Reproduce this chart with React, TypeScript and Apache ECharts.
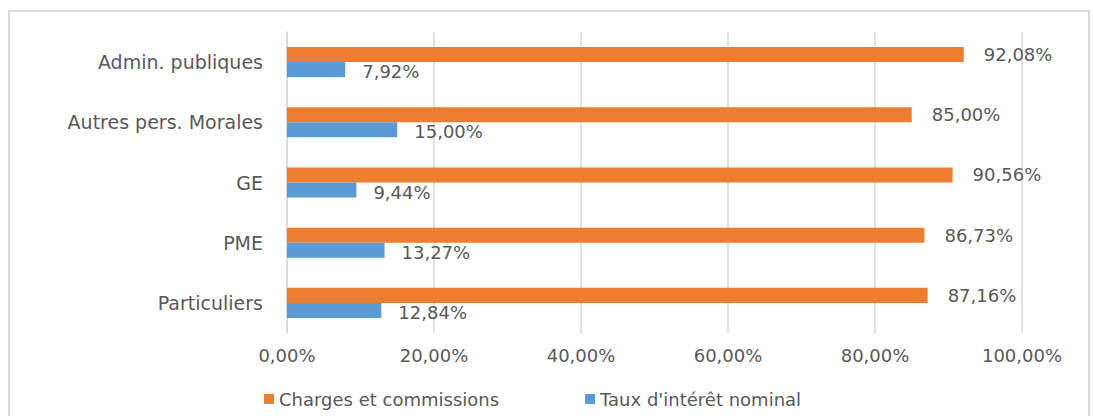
import React, { useEffect, useRef } from "react";
import * as echarts from "echarts";

const categories = ["Particuliers", "PME", "GE", "Autres pers. Morales", "Admin. publiques"];
const chargesValues = [87.16, 86.73, 90.56, 85.0, 92.08];
const tauxValues = [12.84, 13.27, 9.44, 15.0, 7.92];
const seriesNames = ["Charges et commissions", "Taux d'intérêt nominal"];

const fmt = (v: number) => v.toFixed(2).replace(".", ",") + "%";
const FONT = "DejaVu Sans";
const TXT = "#595959";

export default function App() {
  const ref = useRef<HTMLDivElement>(null);
  useEffect(() => {
    if (!ref.current) return;
    const chart = echarts.init(ref.current, undefined, { renderer: "svg" });
    chart.setOption({
      animation: false,
      backgroundColor: "#ffffff",
      textStyle: { fontFamily: FONT, color: TXT },
      graphic: [
        {
          type: "rect",
          shape: { x: 9, y: 11, width: 1080, height: 420 },
          style: { fill: "none", stroke: "#d9d9d9", lineWidth: 2 },
          silent: true,
        },
      ],
      grid: { left: 287, right: 71, top: 32, bottom: 83, containLabel: false },
      legend: {
        data: seriesNames,
        left: 259,
        top: 385,
        itemWidth: 10,
        itemHeight: 10,
        itemGap: 86,
        icon: "rect",
        textStyle: { fontFamily: FONT, color: TXT, fontSize: 18 },
      },
      xAxis: {
        type: "value",
        min: 0,
        max: 100,
        interval: 20,
        axisLabel: {
          formatter: (v: number) => fmt(v),
          color: TXT,
          fontFamily: FONT,
          fontSize: 18,
          margin: 13,
        },
        axisLine: { show: false },
        axisTick: { show: false },
        splitLine: { show: true, lineStyle: { color: "#d9d9d9", width: 1.5 } },
      },
      yAxis: {
        type: "category",
        data: categories,
        axisLabel: { color: TXT, fontFamily: FONT, fontSize: 19, margin: 24 },
        axisLine: { show: true, lineStyle: { color: "#d9d9d9", width: 1.5 } },
        axisTick: { show: false },
      },
      series: [
        {
          name: seriesNames[0],
          type: "bar",
          data: chargesValues,
          itemStyle: { color: "#ED7D31" },
          barGap: "0%",
          barCategoryGap: "50%",
          label: {
            show: true,
            position: "right",
            distance: 20,
            formatter: (p: any) => fmt(p.value),
            color: TXT,
            fontFamily: FONT,
            fontSize: 18,
          },
        },
        {
          name: seriesNames[1],
          type: "bar",
          data: tauxValues,
          itemStyle: { color: "#5B9BD5" },
          barGap: "0%",
          barCategoryGap: "50%",
          label: {
            show: true,
            position: "right",
            distance: 17,
            offset: [0, 2],
            formatter: (p: any) => fmt(p.value),
            color: TXT,
            fontFamily: FONT,
            fontSize: 18,
          },
        },
      ],
    });
    return () => chart.dispose();
  }, []);
  return (
    <div
      ref={ref}
      style={{ position: "fixed", left: 0, top: 0, width: 1093, height: 416 }}
    />
  );
}
